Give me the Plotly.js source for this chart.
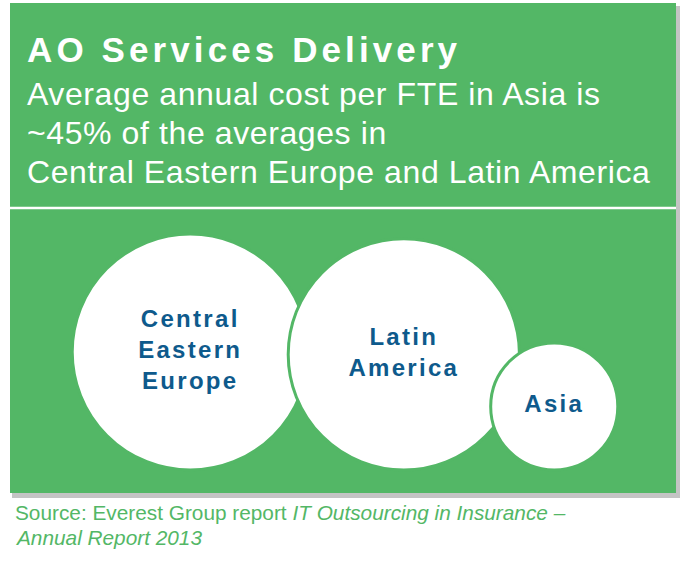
<!DOCTYPE html>
<html>
<head>
<meta charset="utf-8">
<script src="https://cdn.plot.ly/plotly-3.0.1.min.js"></script>
<style>
  html, body { margin: 0; padding: 0; background: #ffffff; }
  #chart { width: 684px; height: 562px; }
</style>
</head>
<body>
<div id="chart"></div>
<script>
// ---- Data ----
const regions = ['Central<br>Eastern<br>Europe', 'Latin<br>America', 'Asia'];
const bubbleValue = [100, 96, 29];   // relative bubble area

const titleText = 'AO Services Delivery';
const subtitleLines = [
  'Average annual cost per FTE in Asia is',
  '~45% of the averages in',
  'Central Eastern Europe and Latin America'
];
const sourceRegular = 'Source: Everest Group report ';
const sourceItalic1 = 'IT Outsourcing in Insurance –';
const sourceItalic2 = 'Annual Report 2013';

// ---- Styling / layout constants ----
const W = 684, H = 562;
const GREEN = '#53B766';
const BLUE = '#0E5A8C';
const FONT = 'Arial, "Liberation Sans", sans-serif';
const panel = {x0: 10, x1: 676, y0: 3, y1: 493};
const maxDiam = 236;
const overlap = 20;
const baseline = 470;
const groupCenter = (panel.x0 + panel.x1) / 2 + 2;

// bubble diameters from values (area mode)
const vmax = Math.max(...bubbleValue);
const radii = bubbleValue.map(v => maxDiam / 2 * Math.sqrt(v / vmax));
// bottom aligned, chained with a constant overlap
const cx = [0];
for (let i = 1; i < radii.length; i++) {
  const d = radii[i - 1] + radii[i] - overlap;
  const dy = radii[i - 1] - radii[i];
  cx.push(cx[i - 1] + Math.sqrt(d * d - dy * dy));
}
const left = cx[0] - radii[0];
const right = cx[cx.length - 1] + radii[radii.length - 1];
const shift = groupCenter - (left + right) / 2;
const xs = cx.map(v => v + shift);
const ys = radii.map(r => baseline - r);

const sizeref = 2 * vmax / (maxDiam * maxDiam);

const spaced = (t, px) => t.split('<br>').map(s => `<span style="letter-spacing:${px}px">${s}</span>`).join('<br>');

const trace = {
  type: 'scatter',
  mode: 'markers+text',
  x: xs,
  y: ys,
  text: regions.map(t => spaced(t, 2.3)),
  textposition: 'middle center',
  textfont: {family: FONT, size: 24, color: BLUE, weight: 'bold'},
  marker: {
    size: bubbleValue,
    sizemode: 'area',
    sizeref: sizeref,
    color: '#ffffff',
    opacity: 1,
    line: {color: GREEN, width: 3}
  },
  hoverinfo: 'skip',
  cliponaxis: false,
  showlegend: false
};

const annotations = [
  {
    x: 25, y: 49, xref: 'x', yref: 'y', xanchor: 'left', yanchor: 'middle',
    text: `<b><span style="letter-spacing:4.1px">${titleText}</span></b>`,
    showarrow: false, align: 'left',
    font: {family: FONT, size: 35, color: '#ffffff'}
  }
];
subtitleLines.forEach((line, i) => {
  annotations.push({
    x: 25, y: 94 + i * 39, xref: 'x', yref: 'y', xanchor: 'left', yanchor: 'middle',
    text: `<span style="letter-spacing:0.6px">${line}</span>`,
    showarrow: false, align: 'left',
    font: {family: FONT, size: 32, color: '#ffffff'}
  });
});
annotations.push({
  x: 13, y: 512, xref: 'x', yref: 'y', xanchor: 'left', yanchor: 'middle',
  text: `${sourceRegular}<i>${sourceItalic1}</i>`,
  showarrow: false, align: 'left',
  font: {family: FONT, size: 20.8, color: GREEN}
});
annotations.push({
  x: 13, y: 537, xref: 'x', yref: 'y', xanchor: 'left', yanchor: 'middle',
  text: `<i>${sourceItalic2}</i>`,
  showarrow: false, align: 'left',
  font: {family: FONT, size: 20.8, color: GREEN}
});

const shapes = [
  // shadow
  {type: 'rect', xref: 'x', yref: 'y', x0: panel.x0 + 2, x1: panel.x1 + 4, y0: panel.y0 + 3, y1: panel.y1 + 5,
   fillcolor: '#c4c4c4', line: {width: 0}, layer: 'below'},
  {type: 'rect', xref: 'x', yref: 'y', x0: panel.x0, x1: panel.x1, y0: panel.y0, y1: panel.y1,
   fillcolor: GREEN, line: {width: 0}, layer: 'below'},
  {type: 'line', xref: 'x', yref: 'y', x0: panel.x0, x1: panel.x1, y0: 208, y1: 208,
   line: {color: '#ffffff', width: 2.5}, layer: 'below'}
];

const layout = {
  width: W, height: H,
  margin: {l: 0, r: 0, t: 0, b: 0, pad: 0},
  paper_bgcolor: '#ffffff',
  plot_bgcolor: 'rgba(0,0,0,0)',
  xaxis: {range: [0, W], visible: false, fixedrange: true},
  yaxis: {range: [H, 0], visible: false, fixedrange: true},
  shapes: shapes,
  annotations: annotations,
  showlegend: false
};

Plotly.newPlot('chart', [trace], layout, {displayModeBar: false, staticPlot: true});
</script>
</body>
</html>
